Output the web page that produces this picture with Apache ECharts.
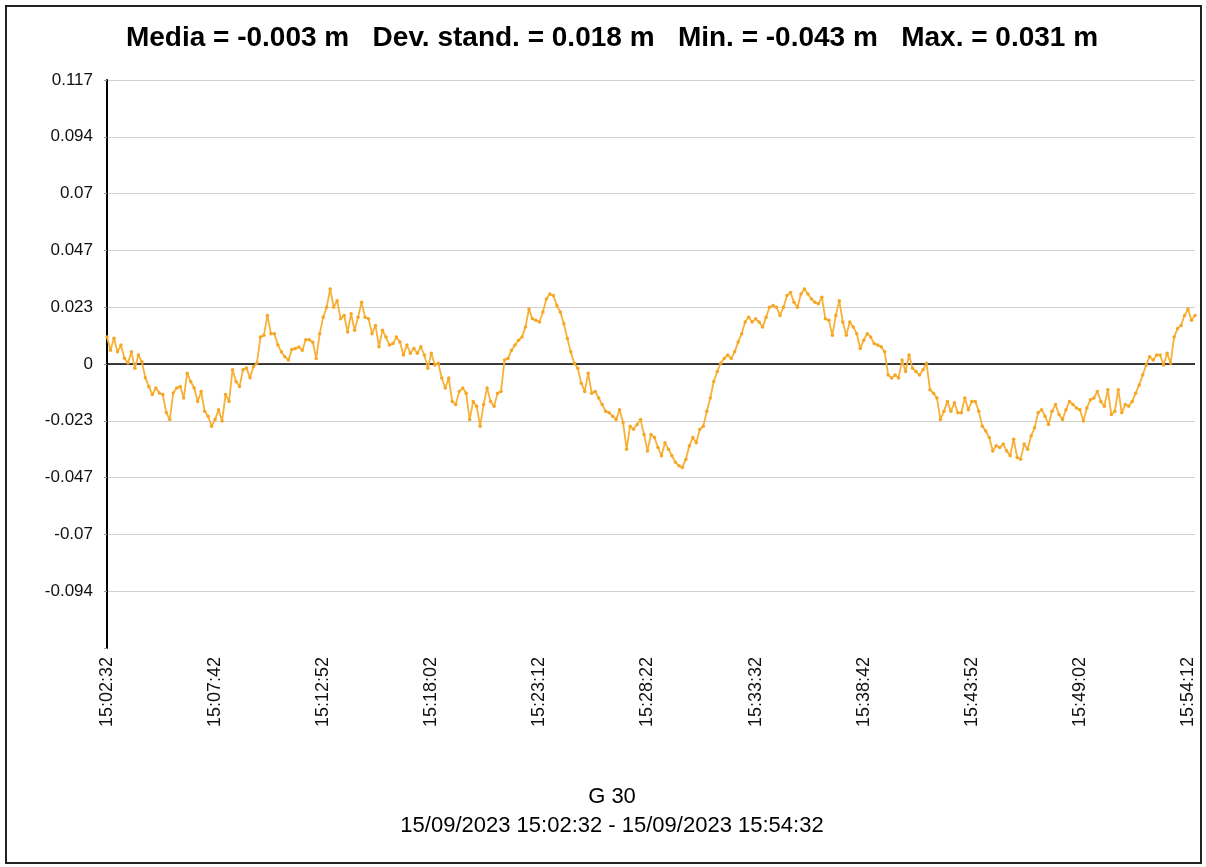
<!DOCTYPE html>
<html>
<head>
<meta charset="utf-8">
<script src="https://cdn.jsdelivr.net/npm/echarts@6/dist/echarts.min.js"></script>
<style>
html,body{margin:0;padding:0;background:#fff;}
#chart{width:1206px;height:867px;}
</style>
</head>
<body>
<div id="chart"></div>
<script>
// ---- data (metres), one sample every 10 s from 15:02:32 to 15:54:32 ----
const startTime = '15:02:32';
const stepSeconds = 10;
const seg1 = [0.0111,0.0057,0.0106,0.005,0.0078,0.0024,0.0004,0.005,-0.0018,0.0037,
  0.0009,-0.0057,-0.0093,-0.0126,-0.0099,-0.0119,-0.0126,-0.02,-0.0229,-0.0119,
  -0.0099,-0.0093,-0.014,-0.0038,-0.0072,-0.0099,-0.0154,-0.0113,-0.0195,-0.0215,
  -0.0256,-0.0229,-0.0188,-0.0235,-0.0126,-0.0154,-0.0024,-0.0072,-0.0093,-0.0024,
  -0.0016,-0.0057,-0.0011,0.0004,0.0111,0.0118,0.02,0.0125,0.0125,0.0078,
  0.005,0.003,0.0016,0.006,0.0064,0.007,0.0057,0.01,0.01,0.009,
  0.0023,0.0125];
const seg2 = [0.0193,0.0234,0.0309,0.0234,0.0261,0.0186,0.02,0.0132,0.0207,0.0139,
  0.0193,0.0254,0.0193,0.0186,0.0125,0.0159,0.0071,0.0139,0.0111,0.0078,
  0.0084,0.0111,0.0091,0.0037,0.0078,0.0044,0.0064,0.0044,0.0071,0.0037,
  -0.0018,0.0044,-0.0004,0.0003,-0.0058,-0.0099,-0.0058,-0.0154,-0.0167,-0.0113,
  -0.0099,-0.012,-0.0229,-0.0154,-0.0174,-0.0256,-0.0167,-0.0099,-0.0154,-0.0174,
  -0.012,-0.0113,0.0016,0.0023,0.0057,0.0078,0.0098,0.0111,0.0152,0.0227,0.0186];
const seg3 = [0.018,0.0173,0.0214,0.0268,0.0288,0.0282,0.0241,0.0214,0.0166,0.0105,
  0.005,0.0003,-0.0018,-0.0079,-0.0113,-0.0038,-0.012,-0.0113,-0.014,-0.0167,
  -0.0195,-0.0201,-0.0215,-0.0229,-0.0188,-0.0242,-0.0351,-0.0256,-0.0269,-0.0249,
  -0.0229,-0.029,-0.0358,-0.029,-0.0303,-0.0344,-0.0378,-0.0324,-0.0351,-0.0378,
  -0.0405,-0.0419,-0.0426,-0.0392,-0.0337,-0.0303,-0.0324,-0.0269,-0.0256,-0.0195,
  -0.014,-0.0072,-0.0031,0.0003,0.0023,0.0037,0.0023,0.005,0.0091,0.0125,
  0.0173,0.0193];
const seg4 = [0.0173,0.0186,0.0173,0.0152,0.0193,0.0234,0.0241,0.0234,0.02,0.0234,
  0.0282,0.0295,0.0254,0.0234,0.0288,0.0309,0.0288,0.0268,0.0254,0.0248,
  0.0275,0.0186,0.018,0.0118,0.02,0.0261,0.0173,0.0118,0.0173,0.0152,
  0.0125,0.0064,0.0098,0.0125,0.0111,0.0084,0.0078,0.0071,0.005,-0.0045,
  -0.0058,-0.0045,-0.0058,0.0016,-0.0031,0.0037,-0.0018,-0.0031,-0.0045,-0.0024,
  0.0003,-0.0106,-0.012,-0.014,-0.0229,-0.0195,-0.0154,-0.0195,-0.016,-0.0201,
  -0.0201,-0.014];
const seg5 = [-0.0188,-0.0154,-0.0154,-0.0195,-0.0256,-0.0276,-0.0303,-0.0358,-0.0337,-0.0344,
  -0.033,-0.0358,-0.0378,-0.031,-0.0385,-0.0392,-0.033,-0.0351,-0.0297,-0.0263,
  -0.0201,-0.0188,-0.0215,-0.0249,-0.0195,-0.0167,-0.0208,-0.0229,-0.0188,-0.0154,
  -0.0167,-0.0181,-0.0188,-0.0235,-0.0181,-0.0147,-0.014,-0.0113,-0.0154,-0.0174,
  -0.0106,-0.0208,-0.0195,-0.0106,-0.0201,-0.0167,-0.0174,-0.0154,-0.012,-0.0086,
  -0.0045,-0.0004,0.003,0.0016,0.0037,0.0037,-0.0004,0.0044,0.0003,0.0111,
  0.0146,0.0159,0.02,0.0227,0.018,0.02];
const values = seg1.concat(seg2, seg3, seg4, seg5);

const titleText = 'Media = -0.003 m   Dev. stand. = 0.018 m   Min. = -0.043 m   Max. = 0.031 m';
const footerLine1 = 'G 30';
const footerLine2 = '15/09/2023 15:02:32 - 15/09/2023 15:54:32';
const yMin = -0.117, yMax = 0.117, yStep = 0.0234;

// time categories
function pad(n){return (n<10?'0':'')+n;}
const p = startTime.split(':').map(Number);
const t0 = p[0]*3600 + p[1]*60 + p[2];
const categories = values.map(function(_, i){
  const t = t0 + i*stepSeconds;
  return pad(Math.floor(t/3600)) + ':' + pad(Math.floor(t/60)%60) + ':' + pad(t%60);
});

const FONT = '"Liberation Sans", Arial, sans-serif';
const chart = echarts.init(document.getElementById('chart'), null, {renderer:'canvas'});
chart.setOption({
  backgroundColor: '#fff',
  animation: false,
  grid: {left: 107, right: 11, top: 80, bottom: 219, containLabel: false},
  xAxis: {
    type: 'category', data: categories, boundaryGap: false,
    axisLine: {show: false}, axisTick: {show: false},
    axisLabel: {interval: 30, rotate: 90, margin: 9, color: '#111', fontFamily: FONT, fontSize: 18},
    splitLine: {show: false}
  },
  yAxis: {
    type: 'value', min: yMin, max: yMax, interval: yStep,
    axisLine: {show: true, onZero: false, lineStyle: {color: '#000', width: 2}},
    axisTick: {show: true, length: 3, lineStyle: {color: '#999'}},
    axisLabel: {
      color: '#111', fontFamily: FONT, fontSize: 17, margin: 14,
      formatter: function(v){
        if (Math.abs(v - yMin) < 1e-6) return '';
        return String(parseFloat(v.toFixed(3)));
      }
    },
    splitLine: {show: true, showMinLine: false, lineStyle: {color: '#d0d0d0', width: 1}}
  },
  series: [{
    type: 'line', data: values,
    symbol: 'circle', symbolSize: 3.5, showSymbol: true, showAllSymbol: true,
    lineStyle: {color: '#f8b038', width: 1.8},
    itemStyle: {color: '#f5a623'},
    markLine: {
      silent: true, symbol: ['none','none'], label: {show: false},
      lineStyle: {color: '#000', width: 1.6, type: 'solid'},
      data: [{yAxis: 0}], z: 1
    },
    z: 3
  }],
  graphic: [
    {type: 'rect', shape: {x: 6, y: 6, width: 1195, height: 857}, style: {fill: 'none', stroke: '#222', lineWidth: 2}, silent: true},
    {type: 'text', x: 612, y: 38, style: {text: titleText, font: 'bold 28px "Liberation Sans", Arial, sans-serif', fill: '#000', align: 'center', verticalAlign: 'middle'}},
    {type: 'text', x: 612, y: 797, style: {text: footerLine1, font: '22px "Liberation Sans", Arial, sans-serif', fill: '#000', align: 'center', verticalAlign: 'middle'}},
    {type: 'text', x: 612, y: 826, style: {text: footerLine2, font: '22px "Liberation Sans", Arial, sans-serif', fill: '#000', align: 'center', verticalAlign: 'middle'}}
  ]
});
</script>
</body>
</html>
